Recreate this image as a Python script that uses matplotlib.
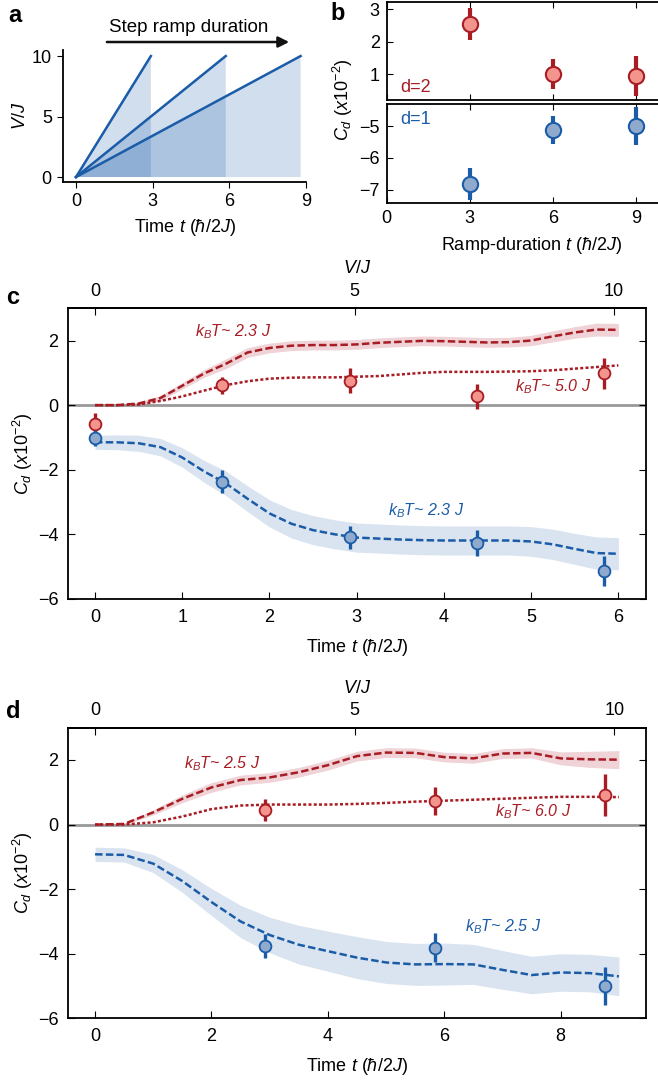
import numpy as np
import matplotlib
matplotlib.use('Agg')
import matplotlib.pyplot as plt

plt.rcParams['font.family'] = ['Liberation Sans', 'DejaVu Sans']
plt.rcParams['mathtext.fontset'] = 'custom'
plt.rcParams['mathtext.rm'] = 'Liberation Sans'
plt.rcParams['mathtext.it'] = 'Liberation Sans:italic'
plt.rcParams['mathtext.bf'] = 'Liberation Sans:bold'
plt.rcParams['axes.linewidth'] = 1.3

# ---- data ----
# panel a: step ramps
ramp_ends = [2.93, 5.86, 8.79]
ramp_vmax = 10

# panel b: C_d vs ramp duration
b_t = [3, 6, 9]
b_d2 = [2.55, 1.0, 0.93]
b_d2_err = [0.5, 0.47, 0.62]
b_d1 = [-6.8, -5.12, -5.0]
b_d1_err = [0.5, 0.45, 0.6]

# panel c: ramp to V/J=10 in ~6 tunnelling times
c_pts_t = [0, 1.46, 2.92, 4.38, 5.84]
c_d2 = [-0.59, 0.62, 0.76, 0.28, 0.99]
c_d2_err = [0.34, 0.26, 0.38, 0.39, 0.48]
c_d1 = [-1.01, -2.37, -4.09, -4.27, -5.13]
c_d1_err = [0.25, 0.36, 0.36, 0.4, 0.47]

c_t = [0, 0.25, 0.5, 0.75, 1.0, 1.25, 1.5, 1.75, 2.0, 2.25, 2.5, 2.75, 3.0,
       3.25, 3.5, 3.75, 4.0, 4.25, 4.5, 4.75, 5.0, 5.25, 5.5, 5.75, 6.0]
c_red_lo = [0, 0.0, 0.05, 0.22, 0.6, 0.98, 1.28, 1.63, 1.77, 1.84, 1.86, 1.86, 1.88,
            1.93, 1.96, 1.99, 1.98, 1.96, 1.94, 1.95, 2.0, 2.13, 2.25, 2.34, 2.33]
c_red_lo_band = [0.02, 0.03, 0.05, 0.08, 0.1, 0.12, 0.15, 0.15, 0.15, 0.15, 0.15, 0.15, 0.15,
                 0.15, 0.15, 0.15, 0.15, 0.15, 0.15, 0.15, 0.16, 0.17, 0.18, 0.2, 0.2]
c_red_hi = [0, 0.0, 0.02, 0.13, 0.27, 0.45, 0.62, 0.74, 0.82, 0.85, 0.86, 0.86, 0.88,
            0.9, 0.95, 1.0, 1.03, 1.03, 1.03, 1.04, 1.05, 1.08, 1.13, 1.18, 1.23]
c_blue = [-1.15, -1.15, -1.18, -1.3, -1.62, -2.05, -2.42, -2.9, -3.35, -3.67, -3.87, -4.0, -4.1,
          -4.13, -4.16, -4.18, -4.19, -4.19, -4.19, -4.19, -4.22, -4.31, -4.45, -4.58, -4.6]
c_blue_band = [0.22, 0.23, 0.25, 0.27, 0.3, 0.34, 0.38, 0.4, 0.42, 0.44, 0.45, 0.45, 0.45,
               0.45, 0.45, 0.45, 0.45, 0.45, 0.45, 0.45, 0.46, 0.47, 0.48, 0.5, 0.5]

# panel d: ramp to V/J=10 in ~9 tunnelling times
d_pts_t = [2.92, 5.84, 8.76]
d_d2 = [0.45, 0.73, 0.91]
d_d2_err = [0.35, 0.44, 0.65]
d_d1 = [-3.77, -3.81, -5.0]
d_d1_err = [0.37, 0.45, 0.6]

d_t = [0, 0.5, 1.0, 1.5, 2.0, 2.5, 3.0, 3.5, 4.0, 4.5, 5.0, 5.5, 6.0, 6.5, 7.0, 7.5, 8.0, 8.5, 9.0]
d_red_lo = [0, 0.02, 0.38, 0.8, 1.15, 1.38, 1.46, 1.62, 1.84, 2.12, 2.23, 2.22, 2.09,
            2.05, 2.2, 2.22, 2.05, 2.02, 2.01]
d_red_lo_band = [0.02, 0.03, 0.08, 0.12, 0.15, 0.15, 0.15, 0.15, 0.15, 0.15, 0.15, 0.15, 0.15,
                 0.15, 0.15, 0.16, 0.2, 0.25, 0.28]
d_red_hi = [0, 0, 0.07, 0.25, 0.48, 0.59, 0.62, 0.62, 0.62, 0.64, 0.67, 0.71, 0.74,
            0.77, 0.8, 0.83, 0.86, 0.86, 0.85]
d_blue = [-0.92, -0.94, -1.21, -1.75, -2.4, -3.0, -3.42, -3.72, -3.92, -4.12, -4.27, -4.33, -4.32,
          -4.33, -4.5, -4.66, -4.58, -4.6, -4.7]
d_blue_band = [0.22, 0.22, 0.28, 0.35, 0.42, 0.5, 0.55, 0.6, 0.62, 0.65, 0.65, 0.65, 0.65,
               0.62, 0.6, 0.58, 0.58, 0.58, 0.6]

RED = '#a81c24'
RED_FACE = '#f3958c'
RED_BAND = '#efd3d7'
BLUE = '#1b5ca8'
BLUE_FACE = '#8faacd'
BLUE_BAND = '#dae4f0'
TIME_LABEL = r'Time $t$ ($\hbar$/2$J$)'
CD_LABEL = r'$C_d$ ($x$10$^{-2}$)'
FS = 13

fig = plt.figure(figsize=(6.58, 10.8), dpi=100)

# ---- panel a ----
axa = fig.add_axes([0.0957, 0.8315, 0.3693, 0.1222])
for te in ramp_ends:
    axa.fill([0, te, te], [0, ramp_vmax, 0], color=BLUE, alpha=0.2, lw=0)
    axa.plot([0, te], [0, ramp_vmax], color=BLUE, lw=1.8)
axa.set_xlim(-0.51, 9.0)
axa.set_ylim(-0.41, 10.5)
axa.set_xticks([0, 3, 6, 9])
axa.set_yticks([0, 5, 10])
axa.spines['top'].set_visible(False)
axa.spines['right'].set_visible(False)
axa.tick_params(direction='out', length=4, labelsize=FS, pad=4)
axa.set_xlabel(TIME_LABEL, fontsize=FS, labelpad=5)
axa.set_ylabel(r'$V/J$', fontsize=FS, labelpad=2)
axa.annotate('', xy=(8.45, 11.16), xytext=(1.1, 11.16),
             arrowprops=dict(arrowstyle='-|>', color='#111111', lw=1.8, mutation_scale=16),
             annotation_clip=False)
axa.text(4.42, 12.35, 'Step ramp duration', ha='center', va='center', fontsize=13.5, clip_on=False)

# ---- panel b ----
axb2 = fig.add_axes([0.5877, 0.9074, 0.44, 0.0907])
axb1 = fig.add_axes([0.5877, 0.8120, 0.44, 0.0917])
axb2.errorbar(b_t, b_d2, yerr=b_d2_err, fmt='o', ms=11, mfc=RED_FACE, mec=RED, mew=1.5,
              ecolor=RED, elinewidth=3, capsize=0)
axb1.errorbar(b_t, b_d1, yerr=b_d1_err, fmt='o', ms=11, mfc=BLUE_FACE, mec=BLUE, mew=1.5,
              ecolor=BLUE, elinewidth=3, capsize=0)
axb2.set_ylim(0.2, 3.23)
axb2.set_yticks([1, 2, 3])
axb1.set_ylim(-7.41, -4.31)
axb1.set_yticks([-7, -6, -5])
for ax in (axb1, axb2):
    ax.set_xlim(0, 10.45)
    ax.set_xticks([0, 3, 6, 9])
    ax.tick_params(direction='in', length=4, labelsize=FS, top=True, pad=5)
axb2.tick_params(labelbottom=False)
axb2.text(0.5, 0.6, 'd=2', color=RED, fontsize=FS, va='center')
axb1.text(0.5, -4.8, 'd=1', color=BLUE, fontsize=FS, va='center')
axb1.set_xlabel(r'Ramp-duration $t$ ($\hbar$/2$J$)', fontsize=FS, labelpad=6)
fig.text(343 / 658, 1 - 100 / 1080, CD_LABEL, rotation=90, ha='center', va='center', fontsize=FS)


def draw_panel(rect, t, red_lo, red_lo_band, red_hi, blue, blue_band,
               pts_t, d2, d2_err, d1, d1_err, xlim, xticks, t_full, labels):
    ax = fig.add_axes(rect)
    t = np.array(t)
    ax.axhline(0, color='#999999', lw=2, zorder=1)
    ax.fill_between(t, np.array(blue) - blue_band, np.array(blue) + blue_band,
                    color=BLUE_BAND, lw=0, zorder=0)
    ax.fill_between(t, np.array(red_lo) - red_lo_band, np.array(red_lo) + red_lo_band,
                    color=RED_BAND, lw=0, zorder=0)
    ax.plot(t, blue, color=BLUE, lw=1.8, ls=(0, (3, 1.3)), zorder=2)
    ax.plot(t, red_lo, color=RED, lw=1.8, ls=(0, (3, 1.3)), zorder=2)
    ax.plot(t, red_hi, color=RED, lw=1.8, ls=(0, (1.2, 0.9)), zorder=2)
    ax.errorbar(pts_t, d2, yerr=d2_err, fmt='o', ms=8.5, mfc=RED_FACE, mec=RED, mew=1.3,
                ecolor=RED, elinewidth=2.4, capsize=0, zorder=3)
    ax.errorbar(pts_t, d1, yerr=d1_err, fmt='o', ms=8.5, mfc=BLUE_FACE, mec=BLUE, mew=1.3,
                ecolor=BLUE, elinewidth=2.4, capsize=0, zorder=3)
    ax.set_xlim(*xlim)
    ax.set_ylim(-6, 3)
    ax.set_xticks(xticks)
    ax.set_yticks([-6, -4, -2, 0, 2])
    ax.tick_params(direction='in', length=5, labelsize=FS, right=True, pad=7)
    ax.set_xlabel(TIME_LABEL, fontsize=FS, labelpad=8)
    ax.set_ylabel(CD_LABEL, fontsize=FS, labelpad=2)
    sec = ax.secondary_xaxis('top', functions=(lambda x: x * 10 / t_full,
                                               lambda v: v * t_full / 10))
    sec.set_xticks([0, 5, 10])
    sec.tick_params(direction='in', length=5, labelsize=FS, pad=6)
    sec.set_xlabel(r'$V/J$', fontsize=FS, labelpad=7)
    for (x, y, s, c) in labels:
        ax.text(x, y, s, color=c, fontsize=11.5, fontstyle='italic', va='center')
    return ax


draw_panel([0.1038, 0.4454, 0.8784, 0.2692], c_t, c_red_lo, c_red_lo_band, c_red_hi,
           c_blue, c_blue_band, c_pts_t, c_d2, c_d2_err, c_d1, c_d1_err,
           (-0.306, 6.32), [0, 1, 2, 3, 4, 5, 6], 5.95,
           [(1.15, 2.28, r'$k_BT$~ 2.3 $J$', RED),
            (4.81, 0.56, r'$k_BT$~ 5.0 $J$', RED),
            (3.36, -3.26, r'$k_BT$~ 2.3 $J$', BLUE)])

draw_panel([0.1038, 0.0571, 0.8784, 0.2691], d_t, d_red_lo, d_red_lo_band, d_red_hi,
           d_blue, d_blue_band, d_pts_t, d_d2, d_d2_err, d_d1, d_d1_err,
           (-0.46, 9.47), [0, 2, 4, 6, 8], 8.92,
           [(1.52, 1.89, r'$k_BT$~ 2.5 $J$', RED),
            (6.87, 0.39, r'$k_BT$~ 6.0 $J$', RED),
            (6.35, -3.17, r'$k_BT$~ 2.5 $J$', BLUE)])

for s, x, y in [('a', 15, 15), ('b', 338, 13), ('c', 13, 297), ('d', 13, 712)]:
    fig.text(x / 658, 1 - y / 1080, s, fontsize=17, fontweight='bold', ha='center', va='center')

fig.savefig('out.png', dpi=100)
